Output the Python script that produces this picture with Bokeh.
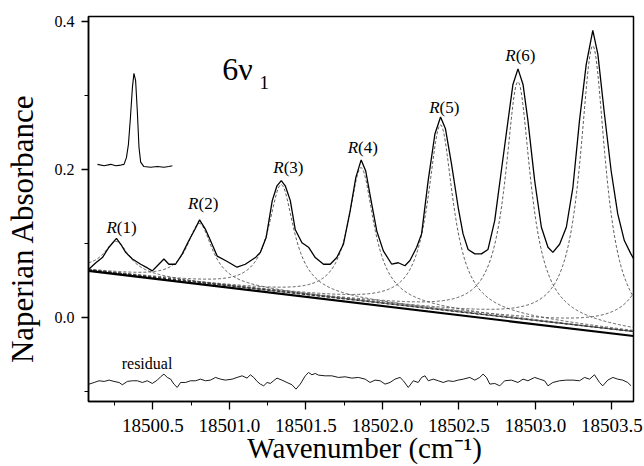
import math
import numpy as np
from bokeh.plotting import figure
from bokeh.models import Range1d, FixedTicker, PrintfTickFormatter, Label, ColumnDataSource
from bokeh.core.properties import value
from bokeh.embed import file_html
from bokeh.resources import INLINE

# ---------------- data ----------------
x_start, x_end = 18500.079, 18503.641
y_start, y_end = -0.1135, 0.4068

obs_x = [18500.079, 18500.127, 18500.170, 18500.213, 18500.262, 18500.290, 18500.322, 18500.366,
         18500.420, 18500.464, 18500.496, 18500.529, 18500.572, 18500.604, 18500.648, 18500.692,
         18500.735, 18500.774, 18500.805, 18500.844, 18500.876, 18500.920, 18500.974, 18501.050,
         18501.104, 18501.170, 18501.202, 18501.240, 18501.280, 18501.311, 18501.339, 18501.365,
         18501.398, 18501.430, 18501.474, 18501.517, 18501.561, 18501.615, 18501.659, 18501.702,
         18501.745, 18501.789, 18501.826, 18501.861, 18501.891, 18501.926, 18501.963, 18502.006,
         18502.061, 18502.104, 18502.147, 18502.180, 18502.224, 18502.256, 18502.299, 18502.343,
         18502.380, 18502.412, 18502.452, 18502.495, 18502.527, 18502.560, 18502.604, 18502.647,
         18502.690, 18502.734, 18502.777, 18502.821, 18502.853, 18502.886, 18502.919, 18502.951,
         18502.995, 18503.039, 18503.082, 18503.114, 18503.158, 18503.202, 18503.245, 18503.288,
         18503.332, 18503.375, 18503.408, 18503.451, 18503.495, 18503.538, 18503.581, 18503.624,
         18503.641]
obs_y = [0.065, 0.074, 0.081, 0.095, 0.107, 0.099, 0.088, 0.079,
         0.072, 0.067, 0.063, 0.070, 0.079, 0.072, 0.072, 0.086,
         0.104, 0.119, 0.132, 0.119, 0.104, 0.083, 0.077, 0.068,
         0.072, 0.081, 0.088, 0.108, 0.158, 0.178, 0.185, 0.178,
         0.158, 0.119, 0.101, 0.095, 0.081, 0.072, 0.072, 0.081,
         0.099, 0.144, 0.189, 0.213, 0.198, 0.158, 0.117, 0.090,
         0.072, 0.074, 0.070, 0.077, 0.095, 0.113, 0.185, 0.248,
         0.271, 0.255, 0.207, 0.149, 0.113, 0.092, 0.086, 0.086,
         0.092, 0.131, 0.198, 0.266, 0.315, 0.336, 0.315, 0.266,
         0.185, 0.122, 0.095, 0.088, 0.099, 0.122, 0.176, 0.266,
         0.342, 0.388, 0.356, 0.275, 0.198, 0.140, 0.104, 0.086,
         0.080]

res_x = [18500.083, 18500.116, 18500.148, 18500.181, 18500.214, 18500.246, 18500.279, 18500.300,
         18500.333, 18500.366, 18500.398, 18500.431, 18500.463, 18500.496, 18500.529, 18500.550,
         18500.572, 18500.594, 18500.616, 18500.637, 18500.659, 18500.681, 18500.713, 18500.746,
         18500.779, 18500.811, 18500.844, 18500.876, 18500.909, 18500.942, 18500.974, 18501.018,
         18501.050, 18501.083, 18501.115, 18501.137, 18501.159, 18501.181, 18501.202, 18501.224,
         18501.246, 18501.267, 18501.289, 18501.311, 18501.343, 18501.376, 18501.409, 18501.435,
         18501.463, 18501.496, 18501.517, 18501.539, 18501.561, 18501.583, 18501.626, 18501.669,
         18501.713, 18501.756, 18501.800, 18501.843, 18501.887, 18501.919, 18501.952, 18501.985,
         18502.017, 18502.050, 18502.082, 18502.115, 18502.137, 18502.169, 18502.202, 18502.234,
         18502.256, 18502.278, 18502.300, 18502.332, 18502.365, 18502.397, 18502.430, 18502.463,
         18502.495, 18502.528, 18502.571, 18502.604, 18502.636, 18502.658, 18502.680, 18502.702,
         18502.734, 18502.767, 18502.799, 18502.843, 18502.886, 18502.919, 18502.951, 18502.995,
         18503.028, 18503.060, 18503.082, 18503.114, 18503.158, 18503.201, 18503.245, 18503.288,
         18503.321, 18503.354, 18503.386, 18503.419, 18503.440, 18503.473, 18503.506, 18503.538,
         18503.571, 18503.603, 18503.625]
res_y = [-0.0900, -0.0878, -0.0855, -0.0864, -0.0846, -0.0864, -0.0878, -0.0909,
         -0.0864, -0.0855, -0.0855, -0.0878, -0.0855, -0.0891, -0.0846, -0.0801,
         -0.0765, -0.0810, -0.0833, -0.0900, -0.0945, -0.0878, -0.0878, -0.0855,
         -0.0855, -0.0833, -0.0855, -0.0846, -0.0810, -0.0833, -0.0846, -0.0833,
         -0.0810, -0.0788, -0.0819, -0.0774, -0.0810, -0.0864, -0.0900, -0.0923,
         -0.0878, -0.0891, -0.0855, -0.0819, -0.0846, -0.0878, -0.0909, -0.0968,
         -0.0900, -0.0788, -0.0743, -0.0774, -0.0756, -0.0779, -0.0788, -0.0788,
         -0.0810, -0.0801, -0.0819, -0.0810, -0.0833, -0.0878, -0.0846, -0.0855,
         -0.0900, -0.0878, -0.0833, -0.0810, -0.0855, -0.0945, -0.0855, -0.0878,
         -0.0810, -0.0788, -0.0855, -0.0833, -0.0855, -0.0878, -0.0855, -0.0864,
         -0.0846, -0.0833, -0.0810, -0.0846, -0.0810, -0.0765, -0.0810, -0.0900,
         -0.0891, -0.0923, -0.0855, -0.0846, -0.0878, -0.0833, -0.0855, -0.0810,
         -0.0833, -0.0855, -0.0923, -0.0878, -0.0855, -0.0846, -0.0846, -0.0855,
         -0.0810, -0.0833, -0.0774, -0.0878, -0.0923, -0.0846, -0.0810, -0.0833,
         -0.0846, -0.0878, -0.0923]

inset_x = [18500.138, 18500.181, 18500.224, 18500.257, 18500.290, 18500.311, 18500.327, 18500.340,
           18500.353, 18500.366, 18500.376, 18500.387, 18500.398, 18500.409, 18500.420, 18500.441,
           18500.485, 18500.529, 18500.572, 18500.604, 18500.627]
inset_y = [0.207, 0.205, 0.207, 0.205, 0.206, 0.207, 0.216, 0.234,
           0.270, 0.311, 0.330, 0.320, 0.279, 0.230, 0.210, 0.204,
           0.203, 0.204, 0.203, 0.204, 0.205]

# fitted Lorentzian components (R(1) ... R(8))
peak_centers = [18500.262, 18500.805, 18501.339, 18501.861, 18502.380, 18502.886, 18503.375, 18503.900]
peak_heights = [0.043, 0.080, 0.145, 0.180, 0.250, 0.320, 0.380, 0.400]
peak_hwhm = [0.10, 0.10, 0.10, 0.10, 0.10, 0.10, 0.10, 0.10]

base_x = [x_start, x_end]
base_solid_y = [0.063, -0.025]
base_fit_y = [0.064, -0.019]

x_ticks = [18500.5, 18501.0, 18501.5, 18502.0, 18502.5, 18503.0, 18503.5]
x_minor = [18500.25, 18500.75, 18501.25, 18501.75, 18502.25, 18502.75, 18503.25]
y_ticks = [0.0, 0.2, 0.4]
y_minor = [-0.1, 0.1, 0.3]

label_nums = ["(1)", "(2)", "(3)", "(4)", "(5)", "(6)"]
label_x = [18500.290, 18500.824, 18501.381, 18501.867, 18502.400, 18502.897]
label_y = [0.1216, 0.1546, 0.2027, 0.2297, 0.2838, 0.3536]

SERIF = "'Liberation Serif', 'Times New Roman', serif"

# ---------------- figure ----------------
p = figure(width=644, height=466, output_backend="svg", toolbar_location=None,
           x_range=Range1d(x_start, x_end), y_range=Range1d(y_start, y_end),
           min_border_left=88, min_border_right=11, min_border_top=16, min_border_bottom=65)
p.background_fill_color = "white"
p.border_fill_color = "white"
p.grid.visible = False
p.outline_line_color = "black"
p.outline_line_width = 1.5

p.xaxis.ticker = FixedTicker(ticks=x_ticks, minor_ticks=x_minor)
p.yaxis.ticker = FixedTicker(ticks=y_ticks, minor_ticks=y_minor)
p.xaxis.formatter = PrintfTickFormatter(format="%.1f")
p.yaxis.formatter = PrintfTickFormatter(format="%.1f")
for ax in (p.xaxis, p.yaxis):
    ax.axis_line_width = 1.5
    ax.axis_line_color = "black"
    ax.major_tick_line_color = "black"
    ax.minor_tick_line_color = "black"
    ax.major_tick_line_width = 1.3
    ax.minor_tick_line_width = 1.0
    ax.major_tick_in = 0
    ax.minor_tick_in = 0
    ax.major_label_text_font = SERIF
    ax.major_label_text_color = "black"
    ax.axis_label_text_font = SERIF
    ax.axis_label_text_font_style = "normal"
    ax.axis_label_text_color = "black"
p.xaxis.major_tick_out = 8
p.xaxis.minor_tick_out = 4
p.yaxis.major_tick_out = 7
p.yaxis.minor_tick_out = 4
p.xaxis.major_label_text_font_size = "19px"
p.yaxis.major_label_text_font_size = "16px"
p.xaxis.major_label_standoff = 9
p.yaxis.major_label_standoff = 7

p.xaxis.axis_label = "\u00a0Wavenumber (cm⁻¹)"
p.xaxis.axis_label_text_font_size = "29px"
p.xaxis.axis_label_standoff = -3
p.yaxis.axis_label = "Naperian Absorbance" + "\u00a0" * 5
p.yaxis.axis_label_text_font_size = "31px"
p.yaxis.axis_label_standoff = 12

# model curves
xx = np.linspace(x_start, x_end, 700)
fit_base = np.interp(xx, base_x, base_fit_y)
for c, h, g in zip(peak_centers, peak_heights, peak_hwhm):
    comp = fit_base + h * g * g / ((xx - c) ** 2 + g * g)
    p.line(xx, comp, line_color="#4a4a4a", line_width=0.9, line_dash="3 2")
p.line(base_x, base_fit_y, line_color="#333333", line_width=1.0, line_dash="3 2")
p.line(base_x, base_solid_y, line_color="black", line_width=2.2)

# observed spectrum, residual, inset
p.line(obs_x, obs_y, line_color="black", line_width=1.3)
p.line(res_x, res_y, line_color="black", line_width=0.9)
p.line(inset_x, inset_y, line_color="black", line_width=1.1)

# peak labels: italic R + upright (n)
src = ColumnDataSource(dict(x=label_x, y=label_y, r=["R"] * len(label_nums), n=label_nums))
p.text(x="x", y="y", text="r", source=src, text_font=value(SERIF), text_font_style="italic",
       text_font_size="17px", text_align="right", text_baseline="alphabetic", x_offset=-4,
       text_color="black")
p.text(x="x", y="y", text="n", source=src, text_font=value(SERIF),
       text_font_size="17px", text_align="left", text_baseline="alphabetic", x_offset=-4,
       text_color="black")

# annotations
p.add_layout(Label(x=18500.953, y=0.3361, text="6ν", text_font=SERIF, text_font_size="32px",
                   text_align="left", text_baseline="alphabetic", text_color="black"))
p.add_layout(Label(x=18501.196, y=0.3172, text="1", text_font=SERIF, text_font_size="19px",
                   text_align="left", text_baseline="alphabetic", text_color="black"))
p.add_layout(Label(x=18500.296, y=-0.0616, text="residual", text_font=SERIF, text_font_size="16px",
                   text_align="left", text_baseline="alphabetic", text_color="black"))

open("out.html", "w").write(file_html(p, INLINE))
